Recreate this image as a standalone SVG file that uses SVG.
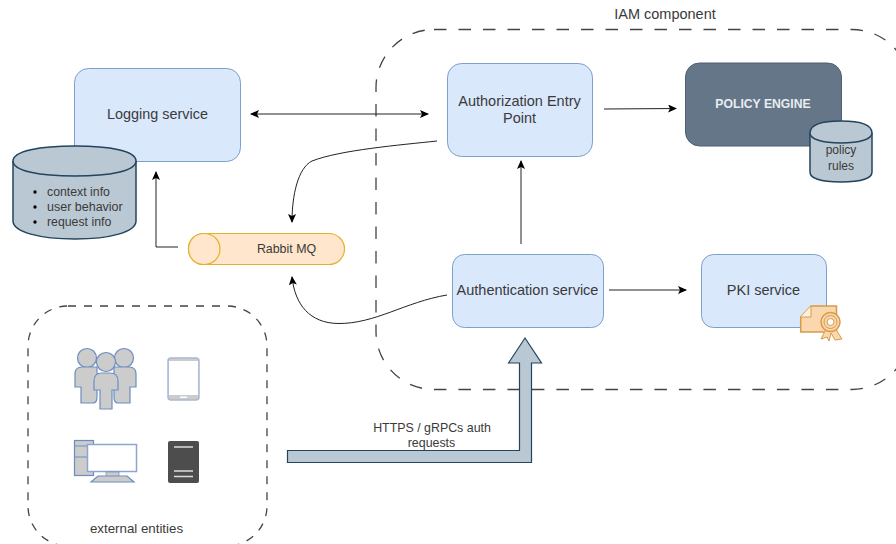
<svg xmlns="http://www.w3.org/2000/svg" width="896" height="544" viewBox="0 0 896 544">
<style>
text{font-family:"Liberation Sans",Arial,sans-serif;fill:#3a3a3a;text-anchor:middle}
.svc{fill:#dae8fc;stroke:#7f9fcc;stroke-width:1}
.dash{fill:none;stroke:#444;stroke-width:1.300}
.cyl{fill:#bac8d3;stroke:#23445d;stroke-width:1.500}
.c{fill:none;stroke:#222;stroke-width:1}
.ico{fill:#ccc;stroke:#6c8ebf;stroke-width:1.200}
.ah{fill:#000;stroke:none}
.cert{fill:#fad7ac;stroke:#d79b4a}
</style>
<defs>
<marker id="a" markerWidth="10" markerHeight="8" refX="8" refY="4" orient="auto-start-reverse" markerUnits="userSpaceOnUse"><path class="ah" d="M0 0L9 4L0 8L2 4Z"/></marker>
</defs>
<g id="iam-boundary"><rect class="dash" stroke-dasharray="12.500 12" x="376" y="29.500" width="534" height="360" rx="58"/><text x="665" y="18.500" font-size="14.500">IAM component</text></g>
<g id="external-boundary"><rect class="dash" stroke-dasharray="8 8" x="28" y="306" width="239" height="240" rx="40"/><text x="136.500" y="533" font-size="13.300">external entities</text></g>
<g id="logging"><rect class="svc" x="74.500" y="68.500" width="166" height="93" rx="14"/><text x="157.500" y="119" font-size="14.400">Logging service</text></g>
<g id="log-store"><path class="cyl" d="M13 161V221C13 232 40 239 75 239S136 232 136 221V161C136 151 110 146 75 146S13 151 13 161Z"/><path class="cyl" fill="none" d="M13 161C13 171 40 176 75 176S136 171 136 161"/>
<circle cx="35" cy="192" r="1.700" fill="#000"/><circle cx="35" cy="207" r="1.700" fill="#000"/><circle cx="35" cy="222" r="1.700" fill="#000"/>
<text x="47" y="196" font-size="12.300" style="text-anchor:start">context info</text><text x="47" y="211" font-size="12.500" style="text-anchor:start">user behavior</text><text x="47" y="226" font-size="12.300" style="text-anchor:start">request info</text></g>
<g id="rabbit"><rect x="188.500" y="233.500" width="156" height="31" rx="15.500" fill="#ffe6cc" stroke="#e6b030" stroke-width="1.200"/><path d="M204 233.500C194 233.500 188.500 241 188.500 249S194 264.500 204 264.500C214 264.500 220 257 220 249S214 233.500 204 233.500Z" fill="#ffe6cc" stroke="#e6b030" stroke-width="1.200"/><text x="286.500" y="253" font-size="12.400">Rabbit MQ</text></g>
<g id="authz"><rect class="svc" x="447.500" y="63.500" width="145" height="93" rx="14"/><text x="519.500" y="106" font-size="14.500">Authorization Entry</text><text x="519.500" y="123" font-size="14.500">Point</text></g>
<g id="policy-engine"><rect x="685.500" y="63" width="156" height="83" rx="14" fill="#647687" stroke="#4d5f70"/><text x="763" y="108" font-size="12.200" font-weight="bold" style="fill:#e8edf2">POLICY ENGINE</text></g>
<g id="policy-rules"><path class="cyl" d="M810 133V172C810 178 820 182 841 182S872 178 872 172V133C872 125 860 121 841 121S810 125 810 133Z"/><path class="cyl" fill="none" d="M810 133C810 139 822 143 841 143S872 139 872 133"/><text x="841" y="154" font-size="12">policy</text><text x="841" y="170" font-size="12">rules</text></g>
<g id="authn"><rect class="svc" x="452.500" y="254.500" width="151" height="73" rx="12"/><text x="527.500" y="295" font-size="14.500">Authentication service</text></g>
<g id="pki"><rect class="svc" x="701.500" y="254.500" width="125" height="73" rx="12"/><text x="763.500" y="295" font-size="14.500">PKI service</text>
<path class="cert" d="M800.700 317L811 306H836.500V332H800.700Z" stroke-width="1.500"/><path d="M800.700 317H811V306" fill="#fff3e0" stroke="#d79b4a"/><path class="cert" d="M826 329L821 339L827 337L829 341L831 333L835 340L842 339L835 328Z"/><circle class="cert" cx="830.500" cy="322" r="9.500" stroke-width="1.500"/><circle class="cert" cx="830.500" cy="322" r="6.500"/><circle cx="830.500" cy="322" r="3.500" fill="#fff" stroke="#d79b4a"/></g>
<g id="users"><g class="ico"><circle cx="87" cy="358" r="9.500"/><circle cx="124" cy="358" r="9.500"/><path d="M81 403V387H75V374Q75 367 82 367H97V397Q97 403 93 403Z"/><path d="M130 403V387H136V374Q136 367 129 367H114V397Q114 403 118 403Z"/><circle cx="106" cy="362" r="9.500"/><path d="M100 409V390H94V381Q94 373 102 373H110Q118 373 118 381V390H112V409Z"/></g></g>
<g id="tablet"><rect x="168" y="358" width="31" height="42" rx="3" fill="#ccc" stroke="#a9b9d6" stroke-width="1.500"/><rect x="169" y="361" width="29" height="34" fill="#fff"/><rect x="180" y="396.500" width="7" height="1.500" fill="#fff"/></g>
<g id="desktop"><rect class="ico" x="74.500" y="440.500" width="19" height="35"/><path d="M75 446H93M75 457H93" stroke="#6c8ebf" fill="none"/><rect x="87.500" y="444.500" width="49" height="27" fill="#fff" stroke="#8ca6d0" stroke-width="1.500"/><rect x="106" y="472" width="13" height="5" fill="#ccc" stroke="#6c8ebf" stroke-width=".7"/><path d="M91 482L98 476H127L134 482Z" class="ico"/></g>
<g id="server"><rect x="168" y="441" width="31" height="42" rx="2" fill="#4d4d4d"/><path d="M174 447H193M174 471H193M174 476.500H193" stroke="#ddd" stroke-width="1.500"/></g>
<g id="connectors">
<path class="c" d="M251 114H428" marker-start="url(#a)" marker-end="url(#a)"/>
<path class="c" d="M437 141C400 145 340 150 312 161C298 168 292 195 292 222" marker-end="url(#a)"/>
<path class="c" d="M178 247H156V172" marker-end="url(#a)"/>
<path class="c" d="M447 295C405 302 375 324 338 323.500C310 323 295 305 292 277" marker-end="url(#a)"/>
<path class="c" d="M521 244V161" marker-end="url(#a)"/>
<path class="c" d="M604 109L676 108.500" marker-end="url(#a)"/>
<path class="c" d="M609 290H686" marker-end="url(#a)"/>
<path d="M287.500 450.500H519.500V363H508.500L525 338L541.500 363H531.500V462.500H287.500Z" fill="#bac8d3" stroke="#23445d" stroke-width="1.200"/>
<text x="432" y="432" font-size="12.400">HTTPS / gRPCs auth</text><text x="431.500" y="447" font-size="12.400">requests</text>
</g>
</svg>
